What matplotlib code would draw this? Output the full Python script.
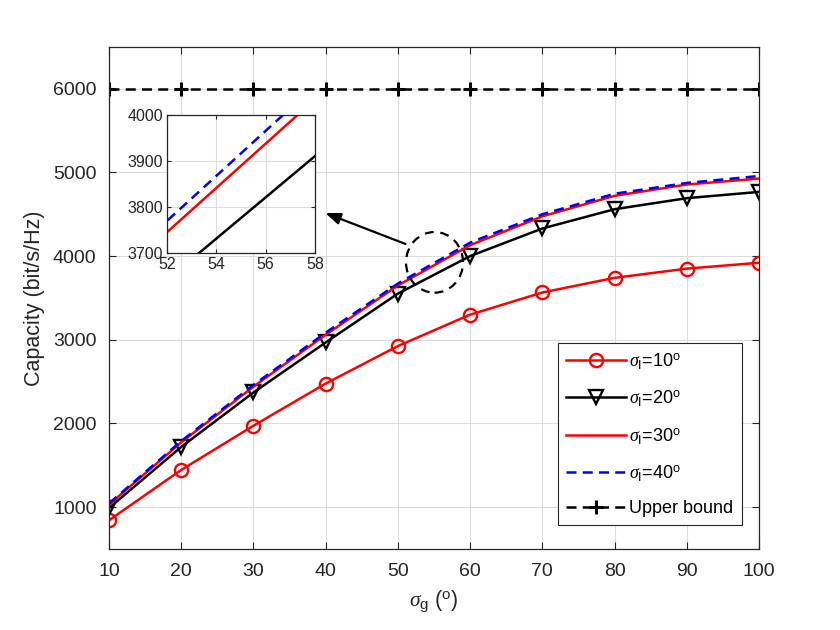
import matplotlib
matplotlib.use("Agg")
import matplotlib.pyplot as plt
from matplotlib.patches import Ellipse

plt.rcParams['font.family'] = ['Liberation Sans', 'DejaVu Sans']
plt.rcParams['mathtext.fontset'] = 'custom'
plt.rcParams['mathtext.rm'] = 'Liberation Sans'
plt.rcParams['mathtext.it'] = 'Liberation Serif:italic'
plt.rcParams['mathtext.bf'] = 'Liberation Sans:bold'

sigma_g = [10, 20, 30, 40, 50, 60, 70, 80, 90, 100]
cap_10 = [843, 1445, 1973, 2477, 2925, 3300, 3565, 3740, 3850, 3920]
cap_20 = [990, 1720, 2370, 2968, 3552, 4000, 4330, 4560, 4692, 4767]
cap_30 = [1030, 1775, 2440, 3060, 3649, 4130, 4475, 4720, 4855, 4926]
cap_40 = [1045, 1790, 2460, 3085, 3672, 4161, 4500, 4745, 4874, 4957]
upper = [6000] * len(sigma_g)

labels = [r'$\sigma_{\rm I}$=10$^{\rm o}$', r'$\sigma_{\rm I}$=20$^{\rm o}$',
          r'$\sigma_{\rm I}$=30$^{\rm o}$', r'$\sigma_{\rm I}$=40$^{\rm o}$',
          'Upper bound']
xticks = [10, 20, 30, 40, 50, 60, 70, 80, 90, 100]
yticks = [1000, 2000, 3000, 4000, 5000, 6000]
inset_xticks = [52, 54, 56, 58]
inset_yticks = [3700, 3800, 3900, 4000]

fig = plt.figure(figsize=(8.4, 6.3), dpi=100)
ax = fig.add_axes([0.1298, 0.1286, 0.7738, 0.797])

lw = 1.8
def draw(a, markers=True):
    a.plot(sigma_g, cap_10, color='red', lw=lw, marker='o' if markers else None,
           ms=9.5, mfc='none', mew=1.7, label=labels[0])
    a.plot(sigma_g, cap_20, color='black', lw=lw, marker='v' if markers else None,
           ms=9.5, mfc='none', mew=1.7, label=labels[1])
    a.plot(sigma_g, cap_30, color='red', lw=lw, label=labels[2])
    a.plot(sigma_g, cap_40, color='blue', lw=lw, ls=(0, (4, 2.5)), label=labels[3])

draw(ax)
ax.plot(sigma_g, upper, color='black', lw=lw, ls=(0, (4, 2.5)), marker='+',
        ms=10, mew=2.2, label=labels[4])

ax.set_xlim(10, 100)
ax.set_ylim(500, 6500)
ax.set_xticks(xticks)
ax.set_yticks(yticks)
ax.tick_params(direction='in', top=True, right=True, labelsize=14, length=5,
               color='#262626', labelcolor='#262626')
ax.tick_params(axis='y', pad=9)
ax.tick_params(axis='x', pad=10)
ax.grid(True, color='#dcdcdc', lw=0.8)
ax.set_axisbelow(True)
for s in ax.spines.values():
    s.set_color('#262626')
    s.set_linewidth(0.9)
ax.set_xlabel(r'$\sigma_{\rm g}$ ($^{\rm o}$)', fontsize=15.5, color='#262626', labelpad=6)
ax.set_ylabel('Capacity (bit/s/Hz)', fontsize=15.5, color='#262626', labelpad=6)

leg = ax.legend(loc='upper left', bbox_to_anchor=(0.691, 0.410), borderaxespad=0,
                fontsize=13, frameon=True, fancybox=False, edgecolor='#262626',
                framealpha=1, handlelength=3.3, borderpad=0.45, labelspacing=0.95,
                handletextpad=0.2)
leg.get_frame().set_linewidth(0.8)

# ellipse and arrow
ax.add_patch(Ellipse((55.07, 3925), 7.9, 725, fill=False, ec='black', lw=1.6,
                     ls=(0, (4, 3)), zorder=5))
ax.annotate('', xy=(39.6, 4526), xytext=(51.4, 4133),
            arrowprops=dict(arrowstyle='-|>,head_length=0.9,head_width=0.35',
                            color='black', lw=1.6), zorder=6)

# inset
ins = fig.add_axes([0.1988, 0.5984, 0.176, 0.219])
draw(ins, markers=False)
ins.set_xlim(52, 58)
ins.set_ylim(3700, 4000)
ins.set_xticks(inset_xticks)
ins.set_yticks(inset_yticks)
ins.tick_params(direction='in', top=True, right=True, labelsize=11.5, length=3,
                color='#262626', labelcolor='#262626', pad=3)
ins.grid(True, color='#dcdcdc', lw=0.8)
ins.set_axisbelow(True)
for s in ins.spines.values():
    s.set_color('#262626')
    s.set_linewidth(0.9)

fig.savefig('out.png', dpi=100)
